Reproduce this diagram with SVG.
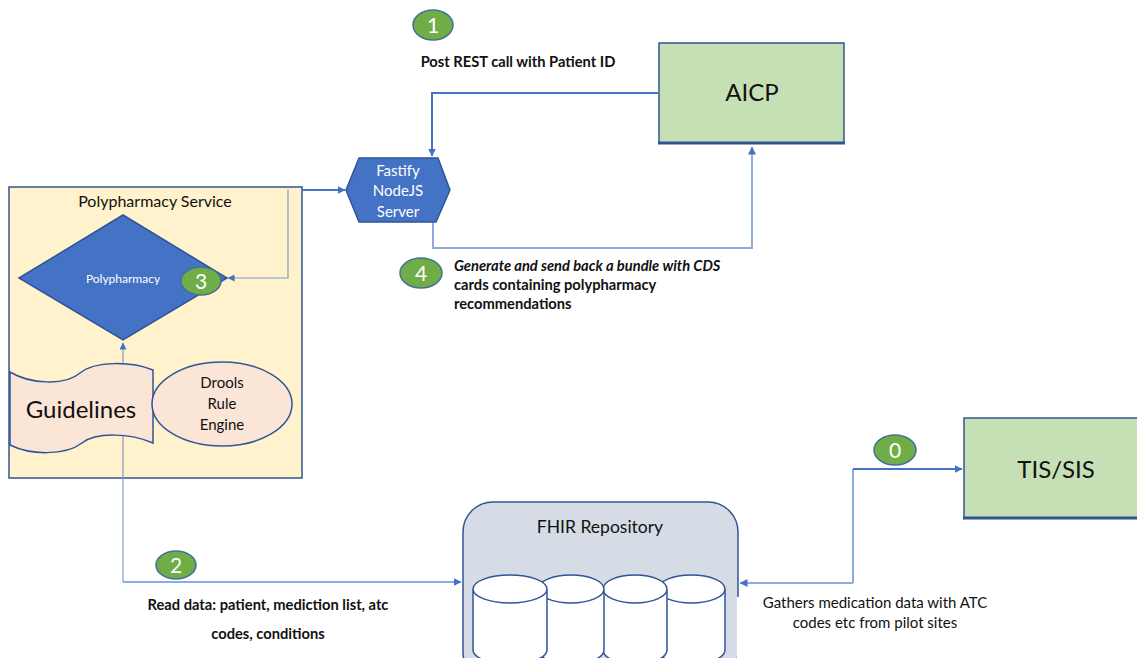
<svg xmlns="http://www.w3.org/2000/svg" width="1137" height="658" viewBox="0 0 1137 658">
  <defs>
    <marker id="arrow" viewBox="0 0 8 8" refX="7.5" refY="4" markerWidth="8" markerHeight="8" markerUnits="userSpaceOnUse" orient="auto">
      <path d="M0,0 L8,4 L0,8 Z" fill="#4472C4"/>
    </marker>
    <marker id="arrowSmall" viewBox="0 0 8 8" refX="7.5" refY="4" markerWidth="7" markerHeight="7" markerUnits="userSpaceOnUse" orient="auto">
      <path d="M0,0 L8,4 L0,8 Z" fill="#4472C4"/>
    </marker>
  </defs>
  <style>
    text { font-family: Lato, "Liberation Sans", sans-serif; fill: #111; }
    .box { stroke: #2F5597; stroke-width: 1.5; }
    .green { fill: #C5E0B4; }
    .badge ellipse { fill: #70AD47; stroke: #41719C; stroke-width: 1.5; }
    .badge text { fill: #fff; font-size: 21px; text-anchor: middle; }
    .dark { fill: none; stroke: #4472C4; stroke-width: 2; }
    .light { fill: none; stroke: #8FAADC; stroke-width: 2; }
    .thin { fill: none; stroke: #7F9CC9; stroke-width: 1.2; }
    .lbl { font-size: 14.7px; font-weight: bold; }
    .peach { fill: #FBE5D6; stroke: #2F5597; stroke-width: 1.5; }
  </style>

  <rect width="1137" height="658" fill="#fff"/>

  <!-- container for the service -->
  <g id="polypharmacy-service">
    <rect x="9" y="187" width="293" height="291" fill="#FFF2CC" class="box"/>
    <text x="155" y="207" font-size="16" text-anchor="middle">Polypharmacy Service</text>
  </g>

  <g id="connectors">
    <!-- AICP to server -->
    <path class="dark" d="M658,93 H432 V156" marker-end="url(#arrow)"/>
    <!-- server back to AICP -->
    <path class="light" d="M433,222 V248 H752 V147" marker-end="url(#arrow)"/>
    <!-- service to server -->
    <path class="dark" stroke-width="1.5" d="M302,190 H345" marker-end="url(#arrow)"/>
    <!-- server call into the polypharmacy rules -->
    <path class="thin" d="M288,190 V278 H228" marker-end="url(#arrowSmall)"/>
    <!-- FHIR data feeding the rules -->
    <path class="thin" d="M123,582 V343" marker-end="url(#arrowSmall)"/>
    <path class="light" d="M123,582 H461" marker-end="url(#arrow)"/>
    <!-- TIS/SIS exchange with the repository -->
    <path class="light" d="M853,583 V469"/>
    <path class="dark" d="M853,469 H962" marker-end="url(#arrow)"/>
    <path class="light" d="M853,583 H740" marker-end="url(#arrow)"/>
  </g>

  <g id="polypharmacy">
    <polygon points="19,278 123,215 227,278 123,340" fill="#4472C4" stroke="#2F5597" stroke-width="1.5"/>
    <text x="123" y="283" font-size="12" text-anchor="middle" style="fill:#fff">Polypharmacy</text>
  </g>

  <g id="guidelines">
    <path class="peach" d="M10,372 C30,384 65,386 80,373 C95,361 130,361 153,370 L153,443 C130,433 96,432 82,443 C65,456 30,455 10,445 Z"/>
    <text x="81" y="418" font-size="24" text-anchor="middle">Guidelines</text>
  </g>

  <g id="drools">
    <ellipse class="peach" cx="222" cy="404" rx="70" ry="42"/>
    <text x="222" y="388" font-size="15" text-anchor="middle">Drools</text>
    <text x="222" y="409" font-size="15" text-anchor="middle">Rule</text>
    <text x="222" y="430" font-size="15" text-anchor="middle">Engine</text>
  </g>

  <g id="server">
    <polygon points="346,190 359,158 438,158 450,190 436,222 359,222" fill="#4472C4" stroke="#2F5597" stroke-width="1.5"/>
    <text x="398" y="176" font-size="15" text-anchor="middle" style="fill:#fff">Fastify</text>
    <text x="398" y="196" font-size="15" text-anchor="middle" style="fill:#fff">NodeJS</text>
    <text x="398" y="217" font-size="15" text-anchor="middle" style="fill:#fff">Server</text>
  </g>

  <g id="aicp">
    <rect x="659" y="43" width="185" height="100" class="box green"/>
    <line x1="658" y1="143" x2="845" y2="143" stroke="#2F5597" stroke-width="3"/>
    <text x="752" y="101" font-size="24" text-anchor="middle">AICP</text>
  </g>

  <g id="tis-sis">
    <rect x="964" y="418" width="180" height="100" class="box green"/>
    <line x1="963" y1="518" x2="1137" y2="518" stroke="#2F5597" stroke-width="3"/>
    <text x="1056" y="478" font-size="24" text-anchor="middle">TIS/SIS</text>
  </g>

  <g id="fhir-repository">
    <rect x="463" y="502" width="275" height="180" rx="30" ry="30" fill="#D6DCE5" class="box"/>
    <text x="600" y="533" font-size="17.5" text-anchor="middle">FHIR Repository</text>
    <g fill="#fff" stroke="#2F5597" stroke-width="1.5">
      <!-- cylinders, rightmost first so the left ones overlap -->
      <path d="M658,589 V650 A33.5,14 0 0 0 725,650 V589 A33.5,14 0 0 0 658,589 A33.5,14 0 0 0 725,589"/>
      <path d="M603,589 V650 A32,14 0 0 0 667,650 V589 A32,14 0 0 0 603,589 A32,14 0 0 0 667,589"/>
      <path d="M538,589 V650 A33,14 0 0 0 604,650 V589 A33,14 0 0 0 538,589 A33,14 0 0 0 604,589"/>
      <path d="M473,589 V650 A37,14 0 0 0 547,650 V589 A37,14 0 0 0 473,589 A37,14 0 0 0 547,589"/>
    </g>
  </g>

  <!-- step badges and their labels -->
  <g id="step-0" class="badge">
    <ellipse cx="895" cy="450" rx="21" ry="15"/>
    <text x="895" y="458">0</text>
  </g>
  <g id="step-1" class="badge">
    <ellipse cx="433" cy="25" rx="20" ry="15"/>
    <text x="433" y="33">1</text>
  </g>
  <g id="step-2" class="badge">
    <ellipse cx="176" cy="565" rx="20" ry="14"/>
    <text x="176" y="573">2</text>
  </g>
  <g id="step-3" class="badge">
    <ellipse cx="201" cy="281" rx="20" ry="14"/>
    <text x="201" y="289">3</text>
  </g>
  <g id="step-4" class="badge">
    <ellipse cx="421" cy="273" rx="21" ry="15"/>
    <text x="421" y="281">4</text>
  </g>

  <g id="labels">
    <text class="lbl" x="518" y="67" text-anchor="middle">Post REST call with Patient ID</text>
    <text class="lbl" x="454" y="271" font-style="italic" font-size="15.5">Generate and send back a bundle with CDS</text>
    <text class="lbl" x="454" y="290">cards containing polypharmacy</text>
    <text class="lbl" x="454" y="309">recommendations</text>
    <text class="lbl" x="268" y="610" text-anchor="middle">Read data: patient, mediction list, atc</text>
    <text class="lbl" x="268" y="639" text-anchor="middle">codes, conditions</text>
    <rect x="737" y="597" width="250" height="61" fill="#fff"/>
    <text x="875" y="608" font-size="15" text-anchor="middle">Gathers medication data  with ATC</text>
    <text x="875" y="628" font-size="15" text-anchor="middle">codes etc from pilot sites</text>
  </g>
</svg>
